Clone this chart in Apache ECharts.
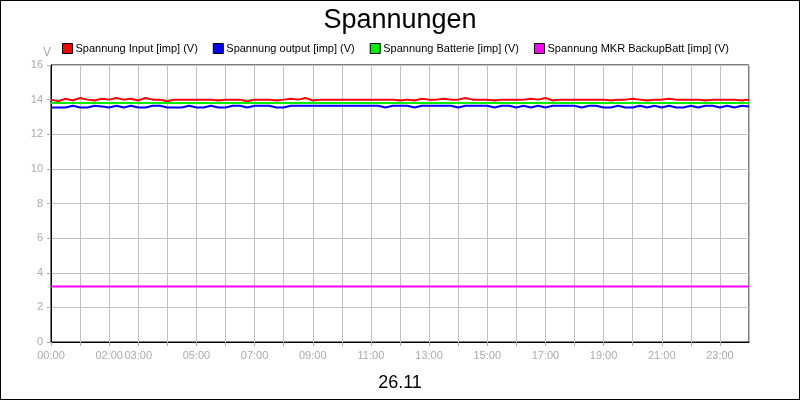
<!DOCTYPE html>
<html><head><meta charset="utf-8">
<script src="https://cdn.jsdelivr.net/npm/echarts@6/dist/echarts.min.js"></script>
<style>html,body{margin:0;padding:0;background:#fff}#c{width:800px;height:400px;box-sizing:border-box;border:1px solid #000}</style>
</head><body><div id="c"></div>
<script>
const seriesNames = ["Spannung Input [imp] (V)","Spannung output [imp] (V)","Spannung Batterie [imp] (V)","Spannung MKR BackupBatt [imp] (V)"];
const colors = ["#ff0000","#0000ff","#00ee00","#ff00ff"];
const hours = [0,0.25,0.5,0.75,1,1.25,1.5,1.75,2,2.25,2.5,2.75,3,3.25,3.5,3.75,4,4.25,4.5,4.75,5,5.25,5.5,5.75,6,6.25,6.5,6.75,7,7.25,7.5,7.75,8,8.25,8.5,8.75,9,9.25,9.5,9.75,10,10.25,10.5,10.75,11,11.25,11.5,11.75,12,12.25,12.5,12.75,13,13.25,13.5,13.75,14,14.25,14.5,14.75,15,15.25,15.5,15.75,16,16.25,16.5,16.75,17,17.25,17.5,17.75,18,18.25,18.5,18.75,19,19.25,19.5,19.75,20,20.25,20.5,20.75,21,21.25,21.5,21.75,22,22.25,22.5,22.75,23,23.25,23.5,23.75,24];
const input = [14.0,13.9,14.05,13.95,14.1,14.0,13.95,14.05,14.0,14.1,14.0,14.05,13.95,14.1,14.0,14.0,13.9,14.0,14.0,14.0,14.0,14.0,14.0,13.95,14.0,14.0,14.0,13.9,14.0,14.0,14.0,13.95,14.0,14.05,14.0,14.1,13.95,14.0,14.0,14.0,14.0,14.0,14.0,14.0,14.0,14.0,14.0,14.0,13.95,14.0,13.95,14.05,14.0,14.0,14.05,14.0,14.0,14.1,14.0,14.0,14.0,13.95,14.0,14.0,14.0,14.0,14.05,14.0,14.1,13.95,14.0,14.0,14.0,14.0,14.0,14.0,14.0,13.95,14.0,14.0,14.05,14.0,13.95,14.0,14.0,14.05,14.0,14.0,14.0,14.0,13.95,14.0,14.0,14.0,14.0,13.95,14.0];
const output = [13.55,13.55,13.55,13.65,13.55,13.55,13.65,13.6,13.55,13.65,13.55,13.65,13.55,13.55,13.65,13.65,13.55,13.55,13.55,13.65,13.55,13.55,13.65,13.55,13.55,13.65,13.65,13.55,13.65,13.65,13.65,13.55,13.55,13.65,13.65,13.65,13.65,13.65,13.65,13.65,13.65,13.65,13.65,13.65,13.65,13.65,13.55,13.65,13.65,13.65,13.55,13.65,13.65,13.65,13.65,13.65,13.55,13.65,13.65,13.65,13.65,13.55,13.65,13.65,13.55,13.65,13.55,13.65,13.55,13.65,13.65,13.65,13.65,13.55,13.65,13.65,13.55,13.55,13.65,13.55,13.55,13.65,13.55,13.65,13.55,13.65,13.55,13.55,13.65,13.55,13.65,13.65,13.55,13.65,13.55,13.65,13.6];
const batterie = hours.map(() => 13.8);
const mkr = hours.map(() => 3.2);
const yTicks = [0,2,4,6,8,10,12,14,16];
const xLabelHours = [0,2,3,5,7,9,11,13,15,17,19,21,23];
const title = "Spannungen";
const footer = "26.11";

const chart = echarts.init(document.getElementById('c'));
const vals = [input, output, batterie, mkr];
chart.setOption({
  animation:false,
  title:[{text:title,left:'center',top:1,textStyle:{fontFamily:'Liberation Sans',fontSize:27,fontWeight:'normal',color:'#000'}},
         {text:footer,left:'center',top:368,textStyle:{fontFamily:'Liberation Sans',fontSize:18,fontWeight:'normal',color:'#000'}}],
  legend:{top:37,left:56,itemGap:15,itemWidth:10,itemHeight:10,icon:'rect',
    textStyle:{fontFamily:'Liberation Sans',fontSize:11,color:'#000',padding:[0,0,0,-2]},
    data:seriesNames.map((n,i)=>({name:n,itemStyle:{color:colors[i],borderColor:'#000',borderWidth:1}}))},
  grid:{left:50,right:50,top:64,bottom:57,show:true,borderColor:'#000',borderWidth:1},
  xAxis:{type:'value',min:0,max:24,interval:1,
    axisLine:{lineStyle:{color:'#000'}},axisTick:{show:true,length:4,lineStyle:{color:'#aaa'}},
    splitLine:{show:true,lineStyle:{color:'#c0c0c0'}},
    axisLabel:{color:'#aaa',fontFamily:'Liberation Sans',fontSize:11,showMaxLabel:false,
      formatter:v=>xLabelHours.includes(v)?String(v).padStart(2,'0')+':00':''}},
  yAxis:{type:'value',min:0,max:16,interval:2,name:'V',nameGap:6,
    nameTextStyle:{color:'#aaa',fontFamily:'Liberation Sans',fontSize:12,align:'right'},
    axisLine:{show:true,lineStyle:{color:'#000'}},axisTick:{show:true,length:4,lineStyle:{color:'#aaa'}},
    splitLine:{show:true,lineStyle:{color:'#c0c0c0'}},
    axisLabel:{color:'#aaa',fontFamily:'Liberation Sans',fontSize:11,formatter:v=>yTicks.includes(v)?String(v):''}},
  series:seriesNames.map((n,i)=>({name:n,type:'line',showSymbol:false,
    color:colors[i],lineStyle:{width:2,color:colors[i]},
    data:hours.map((h,j)=>[h,vals[i][j]])}))
});
</script></body></html>
